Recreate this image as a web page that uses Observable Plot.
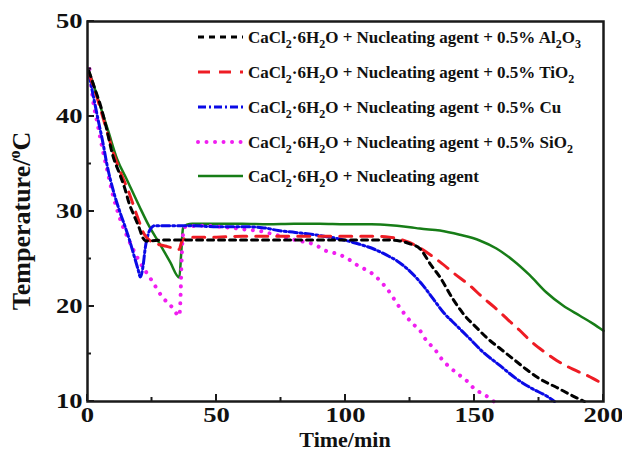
<!DOCTYPE html>
<html><head><meta charset="utf-8">
<script src="https://cdn.jsdelivr.net/npm/d3@7"></script>
<script src="https://cdn.jsdelivr.net/npm/@observablehq/plot@0.6"></script>
<style>
body{margin:0;background:#fff;overflow:hidden;}
#chart svg{font-family:"Liberation Serif","Times New Roman",serif;font-weight:bold;}
</style>
</head><body><div id="chart"></div>
<script>
// ---- data ----
const alTime = [0.5,3,5,7.5,9.7,12.4,14.5,16.2,18,20,21.5,22.5,30,40,50,60,70,80,90,100,110,116,121,125,128.8,133.3,136.6,141.6,146.2,150.7,155.2,159.8,164.9,170,175.2,181.7,188,192.6];
const alTemp = [44.8,42.8,41.2,38.6,36.0,34.0,32.4,30.8,29.6,28.3,27.2,26.9,27.0,27.0,27.0,27.0,27.0,27.0,27.0,27.0,27.0,27.0,26.9,26.6,26.1,24.3,23.1,20.8,19.05,17.8,16.6,15.6,14.5,13.4,12.4,11.5,10.6,10.0];

const tiTime = [0.5,3,5,7.5,10,13,16.2,19.4,22,25,28,31,34,35.5,36.5,38,40,50,60,70,80,90,100,110,117,122,128,132,136.6,142,148.2,153,157.8,163,167.5,172,177.2,182,188.1,194,199,200];
const tiTemp = [44.6,42.6,40.8,38.5,36.2,34.0,31.9,29.4,27.6,26.8,26.5,26.3,26.1,26.0,26.8,27.2,27.3,27.3,27.4,27.4,27.4,27.4,27.4,27.4,27.3,27.0,26.3,25.6,24.7,23.5,22.2,21.0,19.9,18.6,17.5,16.3,15.2,14.3,13.4,12.7,12.0,11.9];

const cuTime = [0.5,2,4,6,7.5,10.3,12.5,14.7,16.5,18.2,19.5,20.5,21.5,22.4,23.5,24.5,26,30,40,50,60,67.7,73.9,80.5,89.4,96,104.8,111.4,116,120,125,130.1,134,137.9,143,148.2,153.3,159.8,166.2,172.7,177.8,181];
const cuTemp = [44.5,42.5,39.8,37.2,35.0,31.9,30.0,28.3,26.8,25.2,24.0,23.1,24.2,26.2,27.6,28.2,28.5,28.5,28.5,28.4,28.4,28.3,28.0,27.8,27.5,27.2,26.6,26.0,25.4,24.8,23.7,22.2,20.8,19.4,18.0,16.6,15.2,13.8,12.4,11.3,10.6,10.0];

const siTime = [0.8,2,3.9,5.2,6.6,7.7,9.7,12.4,15.5,20,25,29,32.9,35.6,36,36.5,37,38,45,50.8,55,61.2,67.7,72,76.6,80.5,84,88.2,92,96,99.8,104.8,110.2,116,121,126,128.8,131.4,134.6,137.2,140.4,143.6,146.9,150.1,153.3,156.6,157.5];
const siTemp = [45.0,42.0,39.2,37.4,35.6,34.3,31.9,29.4,27.3,24.8,22.7,21.0,19.9,19.0,20.6,25.0,27.5,28.4,28.5,28.4,28.3,28.1,27.9,27.6,27.3,27.0,26.8,26.5,25.9,25.6,25.2,24.3,23.5,21.9,19.9,18.2,17.5,16.4,15.5,14.5,13.6,12.9,12.2,11.3,10.8,10.2,10.0];

const naTime = [0.5,1.2,4,8,11.5,15,20,24,28,32,35.6,36.3,37,38.5,40.6,50,60,70,80,90,100,110,115,120,125,128.8,136.6,144.3,152,158.5,165,171.4,177.8,184.3,190.7,195.9,200];
const naTemp = [44.8,44.3,41.9,38.5,35.5,33.5,30.6,28.4,26.6,24.7,23.05,25.5,28.2,28.6,28.7,28.7,28.7,28.65,28.7,28.7,28.65,28.65,28.6,28.5,28.35,28.2,28.0,27.55,26.95,26.1,24.85,23.3,21.5,20.1,19.05,18.2,17.45];

const xMajor = [0,50,100,150,200];
const xMinor = [25,75,125,175];
const yMajor = [10,20,30,40,50];
const yMinor = [15,25,35,45];

const seriesNames = ["Al2O3","TiO2","Cu","SiO2","none"];

// ---- styles ----
const styles = {
  "Al2O3": {stroke:"#000000", strokeWidth:3, strokeDasharray:"6 5"},
  "TiO2": {stroke:"#ee1c24", strokeWidth:3, strokeDasharray:"12 9"},
  "Cu":   {stroke:"#0a0ae6", strokeWidth:3, strokeDasharray:"8 3 2 3"},
  "SiO2": {stroke:"#f01ef0", strokeWidth:4, strokeDasharray:"0.01 8.5", strokeLinecap:"round"},
  "none": {stroke:"#177d17", strokeWidth:2.5}
};
const seriesData = {
  "Al2O3": alTime.map((t,i)=>({t, T: alTemp[i]})),
  "TiO2": tiTime.map((t,i)=>({t, T: tiTemp[i]})),
  "Cu": cuTime.map((t,i)=>({t, T: cuTemp[i]})),
  "SiO2": siTime.map((t,i)=>({t, T: siTemp[i]})),
  "none": naTime.map((t,i)=>({t, T: naTemp[i]}))
};

const fontTick = 20;
const frameColor = "#1a1a1a";

const plot = Plot.plot({
  width: 622, height: 461,
  marginLeft: 87, marginRight: 19, marginTop: 21, marginBottom: 60,
  x: {domain:[0,200]},
  y: {domain:[10,50]},
  marks: [
    ...["none","SiO2","Cu","TiO2","Al2O3"].map(k =>
      Plot.line(seriesData[k], {x:"t", y:"T", curve:"monotone-x", ...styles[k]})),
    Plot.frame({stroke: frameColor, strokeWidth: 2.5}),
    Plot.axisX({ticks:xMajor, tickSize:0, tickPadding:6, label:null, fontSize:fontTick, fill:"#111"}),
    Plot.axisY({ticks:yMajor, tickSize:0, tickPadding:5, label:null, fontSize:fontTick, fill:"#111"})
  ]
});
document.getElementById("chart").appendChild(plot);

const svg = d3.select(plot);
const xs = plot.scale("x"), ys = plot.scale("y");
const x0 = xs.apply(0), x1 = xs.apply(200), y0 = ys.apply(10), y1 = ys.apply(50);

// stretch tick labels horizontally like the reference
svg.selectAll('g[aria-label="x-axis tick label"] text, g[aria-label="y-axis tick label"] text')
  .each(function(){ const n = this.textContent.length; this.setAttribute("textLength", 13.3*n); this.setAttribute("lengthAdjust","spacingAndGlyphs"); });

// inward ticks
const fg = svg.append("g").attr("aria-label","inner ticks");
const addTick = (a,b,c,d) => fg.append("path").attr("d",`M${a},${b}L${c},${d}`)
  .attr("stroke",frameColor).attr("stroke-width",2).attr("fill","none");
xMajor.forEach(v => addTick(xs.apply(v), y0, xs.apply(v), y0-7));
xMinor.forEach(v => addTick(xs.apply(v), y0, xs.apply(v), y0-4));
yMajor.forEach(v => addTick(x0, ys.apply(v), x0+7, ys.apply(v)));
yMinor.forEach(v => addTick(x0, ys.apply(v), x0+4, ys.apply(v)));

// ---- titles ----
svg.append("text").attr("x", (x0+x1)/2).attr("y", 447).attr("text-anchor","middle")
  .attr("font-size",22).attr("fill","#111").text("Time/min");

const yt = svg.append("text").attr("transform",`translate(30,${(y0+y1)/2 + 10}) rotate(-90)`)
  .attr("text-anchor","middle").attr("font-size",26).attr("fill","#111");
yt.append("tspan").text("Temperature/");
yt.append("tspan").attr("font-size",16).attr("dy",-10).text("o");
yt.append("tspan").attr("dy",10).text("C");

// ---- legend ----
const legendLabels = [
  [["CaCl",""],["2","sub"],["·6H",""],["2","sub"],["O + Nucleating agent + 0.5% Al",""],["2","sub"],["O",""],["3","sub"]],
  [["CaCl",""],["2","sub"],["·6H",""],["2","sub"],["O + Nucleating agent + 0.5% TiO",""],["2","sub"]],
  [["CaCl",""],["2","sub"],["·6H",""],["2","sub"],["O + Nucleating agent + 0.5% Cu",""]],
  [["CaCl",""],["2","sub"],["·6H",""],["2","sub"],["O + Nucleating agent + 0.5% SiO",""],["2","sub"]],
  [["CaCl",""],["2","sub"],["·6H",""],["2","sub"],["O + Nucleating agent",""]]
];
const legRowY = [37, 72, 107, 142, 176];
const lg = svg.append("g").attr("text-anchor","start");
seriesNames.forEach((k,i) => {
  const st = styles[k];
  lg.append("line").attr("x1",198).attr("x2",243).attr("y1",legRowY[i]).attr("y2",legRowY[i])
    .attr("stroke",st.stroke).attr("stroke-width",st.strokeWidth)
    .attr("stroke-dasharray",st.strokeDasharray||null).attr("stroke-linecap",st.strokeLinecap||null);
  const t = lg.append("text").attr("x",248).attr("y",legRowY[i]+6).attr("font-size",17).attr("fill","#111");
  let sub = false;
  legendLabels[i].forEach(([s,kind]) => {
    const sp = t.append("tspan").text(s);
    if (kind==="sub") {
      sp.attr("font-size",12);
      if (!sub) { sp.attr("dy",5); sub = true; }
    } else if (sub) { sp.attr("dy",-5); sub = false; }
  });
});
</script>
</body></html>
